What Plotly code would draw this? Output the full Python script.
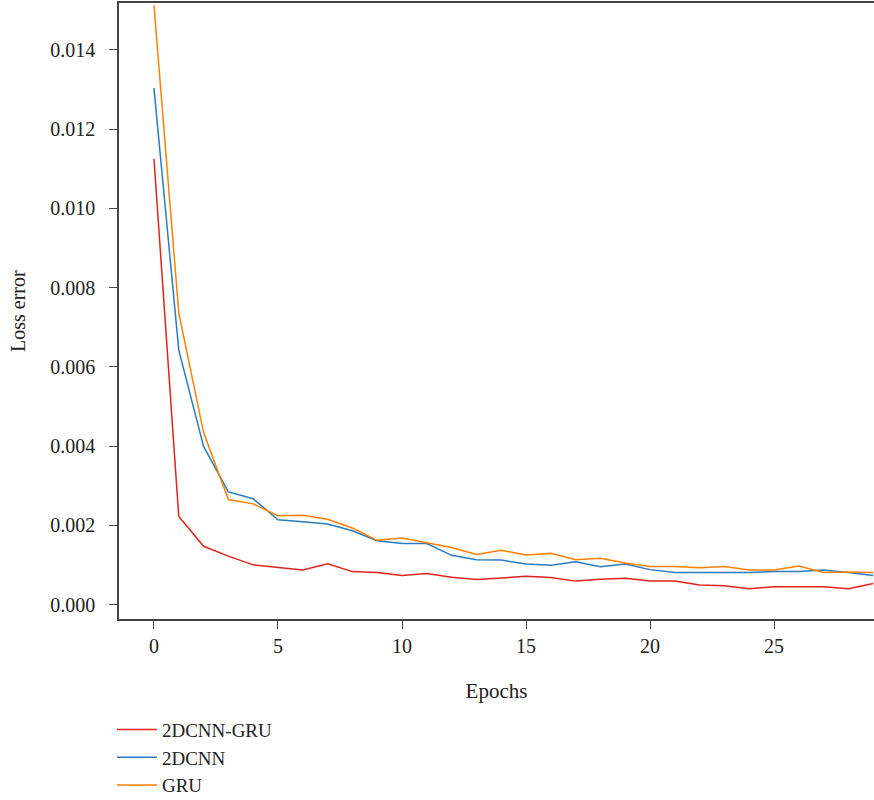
import plotly.graph_objects as go

epochs = list(range(30))

cnn_gru = [0.01125, 0.00222, 0.00147, 0.00122, 0.00100, 0.00093, 0.00087, 0.00103, 0.00083, 0.00081,
           0.00073, 0.00078, 0.00069, 0.00063, 0.00067, 0.00071, 0.00068, 0.00059, 0.00064, 0.00066,
           0.00059, 0.00059, 0.00049, 0.00047, 0.00040, 0.00045, 0.00045, 0.00045, 0.00040, 0.00053]

cnn = [0.01303, 0.00642, 0.00399, 0.00284, 0.00267, 0.00214, 0.00209, 0.00203, 0.00186, 0.00161,
       0.00154, 0.00154, 0.00124, 0.00113, 0.00112, 0.00102, 0.00099, 0.00108, 0.00095, 0.00102,
       0.00088, 0.00081, 0.00081, 0.00081, 0.00081, 0.00083, 0.00083, 0.00087, 0.00081, 0.00073]

gru = [0.01512, 0.00736, 0.00434, 0.00265, 0.00254, 0.00224, 0.00225, 0.00215, 0.00193, 0.00162,
       0.00168, 0.00156, 0.00144, 0.00126, 0.00137, 0.00125, 0.00129, 0.00113, 0.00117, 0.00105,
       0.00096, 0.00096, 0.00093, 0.00096, 0.00087, 0.00087, 0.00097, 0.00081, 0.00082, 0.00081]

series_names = ["2DCNN-GRU", "2DCNN", "GRU"]
series_colors = ["#e2231a", "#2b7bc1", "#ff8000"]
y_ticks = [0.000, 0.002, 0.004, 0.006, 0.008, 0.010, 0.012, 0.014]
x_ticks = [0, 5, 10, 15, 20, 25]

font_family = "Liberation Serif"
fig = go.Figure()
for name, ys, col in zip(series_names, [cnn_gru, cnn, gru], series_colors):
    fig.add_trace(go.Scatter(x=epochs, y=ys, mode="lines", name=name,
                             line=dict(color=col, width=1.5)))

axis_common = dict(showgrid=False, zeroline=False, showline=True, linecolor="#444",
                   linewidth=1.5, ticks="outside", ticklen=8, tickcolor="#444", tickwidth=1.2,
                   tickfont=dict(family=font_family, size=20, color="#222"))

fig.update_layout(
    width=874, height=800,
    margin=dict(l=119, r=0, t=3, b=181, autoexpand=False),
    paper_bgcolor="white", plot_bgcolor="white",
    font=dict(family=font_family, size=20, color="#222"),
    xaxis=dict(range=[-1.41, 29.03], tickvals=x_ticks, mirror=True,
               title=dict(text="Epochs", standoff=28, font=dict(family=font_family, size=21)),
               **axis_common),
    yaxis=dict(range=[-0.000366, 0.01518], tickvals=y_ticks, tickformat=".3f",
               ticklabelstandoff=10, **axis_common),
    annotations=[dict(text="Loss error", xref="paper", yref="paper", x=-0.1338, y=0.5,
                      xanchor="center", yanchor="middle", textangle=-90, showarrow=False,
                      font=dict(family=font_family, size=20, color="#222"))],
    showlegend=True,
    legend=dict(x=-0.0093, xanchor="left", y=-0.1488, yanchor="top", bgcolor="rgba(0,0,0,0)",
                font=dict(family=font_family, size=19, color="#222"), tracegroupgap=0,
                itemwidth=40),
)

fig.write_html("out.html")
